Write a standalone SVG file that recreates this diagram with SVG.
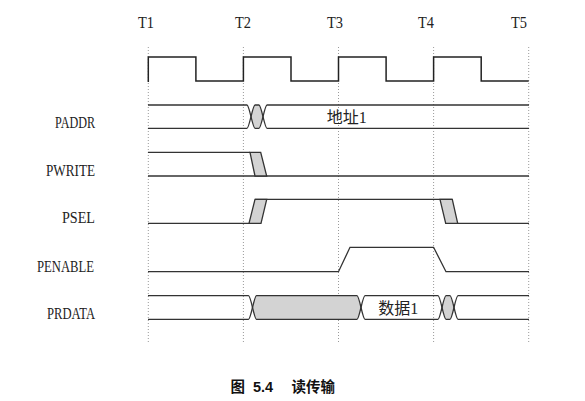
<svg xmlns="http://www.w3.org/2000/svg" width="585" height="401" viewBox="0 0 585 401">
<style>
.grid{stroke:#9a9a9a;stroke-width:1;stroke-dasharray:1 2;fill:none}
.sig{stroke:#333;stroke-width:1.3;fill:none;stroke-linejoin:miter}
.clk{stroke:#222;stroke-width:1.5;fill:none}
.gray{fill:#d3d3d3;stroke:#333;stroke-width:1.3}
.fillonly{fill:#d3d3d3;stroke:none}
.tl{font-family:"Liberation Serif",serif;font-size:16px;fill:#222}
.lbl{font-family:"Liberation Serif",serif;font-size:16px;fill:#222;text-anchor:end}
.cn{font-family:"Liberation Serif","Noto Sans CJK SC",serif;font-size:16px;fill:#222}
.cap{font-family:"Noto Sans CJK SC","Liberation Sans",sans-serif;font-size:14.5px;font-weight:bold;fill:#111}
</style>
<rect width="585" height="401" fill="#fff"/>
<g id="grid">
<line class="grid" x1="148.3" y1="47" x2="148.3" y2="343"/>
<line class="grid" x1="243.4" y1="47" x2="243.4" y2="343"/>
<line class="grid" x1="338.5" y1="47" x2="338.5" y2="343"/>
<line class="grid" x1="433.6" y1="47" x2="433.6" y2="343"/>
<line class="grid" x1="528.7" y1="47" x2="528.7" y2="343"/>
</g>
<g id="time-labels">
<text class="tl" x="138" y="28" textLength="16" lengthAdjust="spacingAndGlyphs">T1</text>
<text class="tl" x="235" y="28" textLength="16" lengthAdjust="spacingAndGlyphs">T2</text>
<text class="tl" x="327" y="28" textLength="16" lengthAdjust="spacingAndGlyphs">T3</text>
<text class="tl" x="418" y="28" textLength="16" lengthAdjust="spacingAndGlyphs">T4</text>
<text class="tl" x="511" y="28" textLength="16" lengthAdjust="spacingAndGlyphs">T5</text>
</g>
<g id="clock">
<path class="clk" d="M148.3,82 V57 H195.9 V81 H243.4 V57 H291 V81 H338.5 V57 H386.1 V81 H433.6 V57 H481.2 V81 H528.7"/>
</g>
<g id="paddr">
<text class="lbl" x="95" y="128.3" textLength="40" lengthAdjust="spacingAndGlyphs">PADDR</text>
<path class="fillonly" d="M251,116.65 Q253.8,105 255,105 H259 Q260.2,105 263,116.65 Q260.2,128.3 259,128.3 H255 Q253.8,128.3 251,116.65 Z"/>
<path class="sig" d="M148,105 H247 Q248.2,105 251,116.65 Q253.8,128.3 255,128.3 H259 Q260.2,128.3 263,116.65 Q265.8,105 267,105 H529"/>
<path class="sig" d="M148,128.3 H247 Q248.2,128.3 251,116.65 Q253.8,105 255,105 H259 Q260.2,105 263,116.65 Q265.8,128.3 267,128.3 H529"/>
<text class="cn" x="326.7" y="122.5">地址1</text>
</g>
<g id="pwrite">
<text class="lbl" x="95" y="176" textLength="49" lengthAdjust="spacingAndGlyphs">PWRITE</text>
<path class="sig" d="M148,152.3 H250"/>
<path class="sig" d="M148,176 H529"/>
<polygon class="gray" points="250,152.3 260.7,152.3 266.7,176 255,176"/>
</g>
<g id="psel">
<text class="lbl" x="95" y="223.3" textLength="33" lengthAdjust="spacingAndGlyphs">PSEL</text>
<path class="sig" d="M148,223.3 H249"/>
<path class="sig" d="M255,199.3 H452.3"/>
<path class="sig" d="M445.7,223.3 H529"/>
<polygon class="gray" points="249,223.3 255,199.3 266.7,199.3 261,223.3"/>
<polygon class="gray" points="440,199.3 452.3,199.3 457.7,223.3 445.7,223.3"/>
</g>
<g id="penable">
<text class="lbl" x="94" y="271.7" textLength="57" lengthAdjust="spacingAndGlyphs">PENABLE</text>
<path class="sig" d="M148,271.7 H338.5 L350,247.3 H433.6 L446,271.7 H529"/>
</g>
<g id="prdata">
<text class="lbl" x="95" y="319.3" textLength="48" lengthAdjust="spacingAndGlyphs">PRDATA</text>
<path class="fillonly" d="M252.5,307.5 Q255.3,295.7 256.5,295.7 H357 Q358.2,295.7 361,307.5 Q358.2,319.3 357,319.3 H256.5 Q255.3,319.3 252.5,307.5 Z"/>
<path class="fillonly" d="M442,307.5 Q444.8,295.7 446,295.7 H450 Q451.2,295.7 454,307.5 Q451.2,319.3 450,319.3 H446 Q444.8,319.3 442,307.5 Z"/>
<path class="sig" d="M148,295.7 H248.5 Q249.7,295.7 252.5,307.5 Q255.3,319.3 256.5,319.3 H357 Q358.2,319.3 361,307.5 Q363.8,295.7 365,295.7 H438 Q439.2,295.7 442,307.5 Q444.8,319.3 446,319.3 H450 Q451.2,319.3 454,307.5 Q456.8,295.7 458,295.7 H529"/>
<path class="sig" d="M148,319.3 H248.5 Q249.7,319.3 252.5,307.5 Q255.3,295.7 256.5,295.7 H357 Q358.2,295.7 361,307.5 Q363.8,319.3 365,319.3 H438 Q439.2,319.3 442,307.5 Q444.8,295.7 446,295.7 H450 Q451.2,295.7 454,307.5 Q456.8,319.3 458,319.3 H529"/>
<text class="cn" x="378.3" y="313.5">数据1</text>
</g>
<g id="caption">
<text class="cap" y="392"><tspan x="230.5">图</tspan><tspan x="253" font-family="Liberation Sans, sans-serif">5.4</tspan><tspan x="291.5">读传输</tspan></text>
</g>
</svg>
